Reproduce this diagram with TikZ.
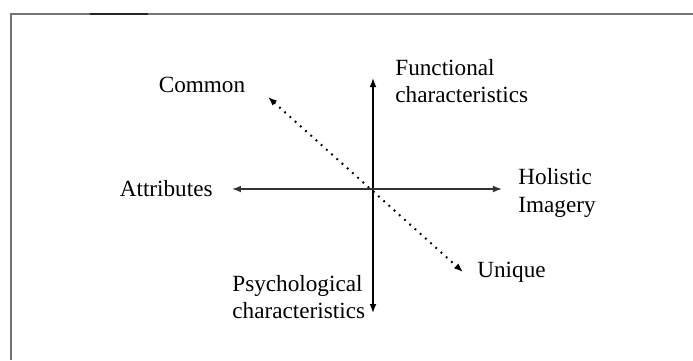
\documentclass[tikz,border=0pt]{standalone}
\usepackage{fontspec}
\setmainfont{Liberation Serif}
\usetikzlibrary{arrows.meta}
\begin{document}
\begin{tikzpicture}[x=0.5pt,y=-0.5pt,
  lbl/.style={inner sep=0pt,font=\fontsize{11.6}{13.6}\selectfont,align=left},
  tip/.style={Latex[length=4.5pt,width=3.4pt]},
  axis/.style={line width=0.75pt,{Latex[length=4.5pt,width=3.4pt]}-{Latex[length=4.5pt,width=3.4pt]}},
  dotax/.style={line width=1pt,dash pattern=on 0.9pt off 2.6pt,{Latex[length=4.5pt,width=3.4pt]}-{Latex[length=4.5pt,width=3.4pt]}},
  frame/.style={line width=0.7pt,black!55}]
\useasboundingbox (0,0) rectangle (693,360);
% frame
\draw[frame] (11,360) -- (11,14) -- (693,14);
\draw[line width=0.9pt,black!85] (90,14) -- (148,14);
% axis ends
\coordinate (vt) at (373,78);
\coordinate (vb) at (373,313);
\coordinate (hl) at (232,189);
\coordinate (hr) at (502,189);
\coordinate (dc) at (268,97);
\coordinate (du) at (463,272);
\draw[axis] (vb) -- (vt);
\draw[axis,black!80] (hl) -- (hr);
\draw[dotax] (dc) -- (du);
% labels
\node[lbl] (common) at (202,85) {Common};
\node[lbl,anchor=west] (func) at (395,81) {Functional\\characteristics};
\node[lbl,anchor=east] (attr) at (213,189) {Attributes};
\node[lbl,anchor=west] (hol) at (518,193) {Holistic\\Imagery};
\node[lbl,anchor=west] (uniq) at (477,272) {Unique};
\node[lbl,anchor=west] (psy) at (232,297) {Psychological\\characteristics};
\end{tikzpicture}
\end{document}
